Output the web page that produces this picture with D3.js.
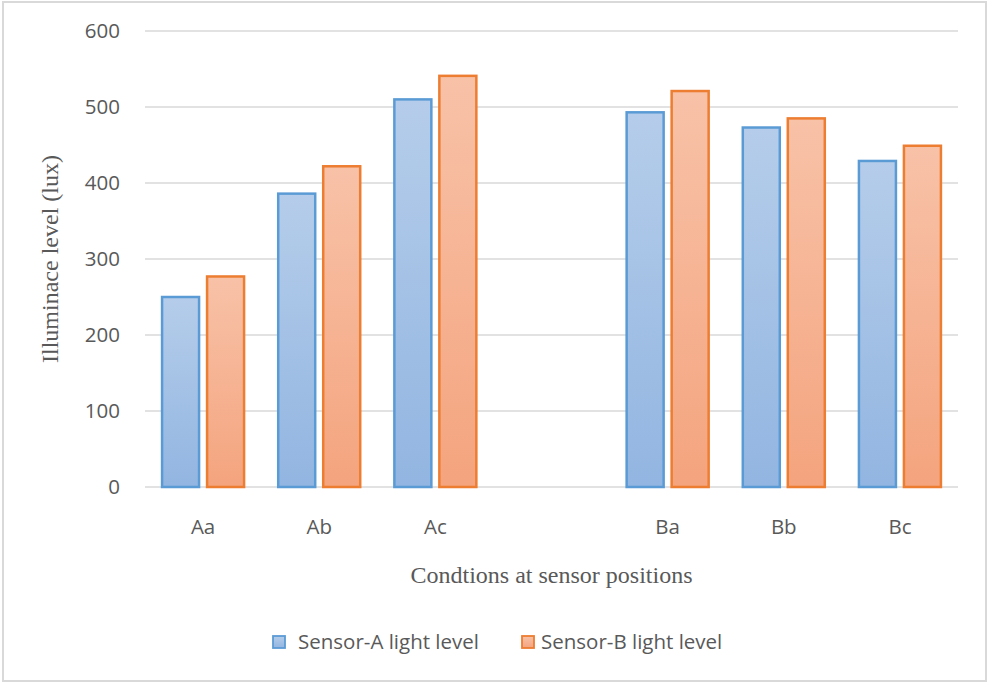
<!DOCTYPE html>
<html>
<head>
<meta charset="utf-8">
<script src="https://cdn.jsdelivr.net/npm/d3@7"></script>
<style>
  body { margin: 0; background: #fff; }
  svg { display: block; }
</style>
</head>
<body>
<div id="chart"></div>
<script>
// data
const categories = ['Aa', 'Ab', 'Ac', '', 'Ba', 'Bb', 'Bc'];
const sensorA = [250, 386, 510, null, 493, 473, 429];
const sensorB = [277, 422, 541, null, 521, 485, 449];
const seriesNames = ['Sensor-A light level', 'Sensor-B light level'];
const yTicks = [0, 100, 200, 300, 400, 500, 600];

const width = 989, height = 683;
const margin = { top: 31, right: 31, bottom: 196, left: 145 };

const svg = d3.select('#chart').append('svg')
    .attr('width', width)
    .attr('height', height);

// outer frame
svg.append('rect')
    .attr('x', 3).attr('y', 2)
    .attr('width', width - 6).attr('height', height - 4)
    .attr('fill', '#fff')
    .attr('stroke', '#d9d9d9')
    .attr('stroke-width', 2);

// gradients
const defs = svg.append('defs');
function grad(id, top, bottom) {
    const g = defs.append('linearGradient').attr('id', id)
        .attr('x1', 0).attr('y1', 0).attr('x2', 0).attr('y2', 1);
    g.append('stop').attr('offset', '0%').attr('stop-color', top);
    g.append('stop').attr('offset', '100%').attr('stop-color', bottom);
}
grad('gA', '#b5cdea', '#92b5e1');
grad('gB', '#f8c2a8', '#f4a47e');

const x = d3.scaleBand().domain(d3.range(categories.length))
    .range([margin.left, width - margin.right]);
const y = d3.scaleLinear().domain([0, 600])
    .range([height - margin.bottom, margin.top]);

// gridlines
svg.append('g').selectAll('line')
    .data(yTicks)
    .join('line')
    .attr('x1', margin.left).attr('x2', width - margin.right)
    .attr('y1', d => y(d)).attr('y2', d => y(d))
    .attr('stroke', '#d9d9d9')
    .attr('stroke-width', 1.3);

const tickFont = 'Open Sans, sans-serif';
const tickSize = 20.5;

// y labels
svg.append('g').selectAll('text')
    .data(yTicks)
    .join('text')
    .attr('x', 120)
    .attr('y', d => y(d))
    .attr('dy', '0.35em')
    .attr('text-anchor', 'end')
    .attr('font-family', tickFont)
    .attr('font-size', tickSize)
    .attr('fill', '#595959')
    .text(d => d);

// bars
const barW = 37, gap = 8;
const series = [
    { vals: sensorA, fill: 'url(#gA)', stroke: '#5b9bd5', off: -gap / 2 - barW },
    { vals: sensorB, fill: 'url(#gB)', stroke: '#ed7d31', off: gap / 2 }
];
series.forEach(s => {
    svg.append('g').selectAll('rect')
        .data(s.vals.map((v, i) => ({ v, i })).filter(d => d.v != null))
        .join('rect')
        .attr('x', d => x(d.i) + x.bandwidth() / 2 + s.off)
        .attr('y', d => y(d.v))
        .attr('width', barW)
        .attr('height', d => y(0) - y(d.v))
        .attr('fill', s.fill)
        .attr('stroke', s.stroke)
        .attr('stroke-width', 2.5);
});

// x labels
svg.append('g').selectAll('text')
    .data(categories)
    .join('text')
    .attr('x', (d, i) => x(i) + x.bandwidth() / 2)
    .attr('y', 534)
    .attr('text-anchor', 'middle')
    .attr('font-family', tickFont)
    .attr('font-size', tickSize)
    .attr('fill', '#595959')
    .text(d => d);

// axis titles
svg.append('text')
    .attr('x', (margin.left + width - margin.right) / 2)
    .attr('y', 583)
    .attr('text-anchor', 'middle')
    .attr('font-family', 'Liberation Serif, Times New Roman, serif')
    .attr('font-size', 24)
    .attr('fill', '#595959')
    .text('Condtions at sensor positions');

svg.append('text')
    .attr('transform', `translate(58,${y(300)}) rotate(-90)`)
    .attr('text-anchor', 'middle')
    .attr('font-family', 'Liberation Serif, Times New Roman, serif')
    .attr('font-size', 24)
    .attr('fill', '#595959')
    .text('Illuminace level (lux)');

// legend
const legend = svg.append('g');
const legendX = [273, 522];
seriesNames.forEach((name, i) => {
    const g = legend.append('g').attr('transform', `translate(${legendX[i]},642)`);
    g.append('rect')
        .attr('x', 0).attr('y', -6)
        .attr('width', 12).attr('height', 12)
        .attr('fill', i === 0 ? 'url(#gA)' : 'url(#gB)')
        .attr('stroke', series[i].stroke)
        .attr('stroke-width', 1.8);
    g.append('text')
        .attr('x', i === 0 ? 25 : 19)
        .attr('dy', '0.35em')
        .attr('font-family', tickFont)
        .attr('font-size', tickSize)
        .attr('fill', '#595959')
        .text(name);
});
</script>
</body>
</html>
